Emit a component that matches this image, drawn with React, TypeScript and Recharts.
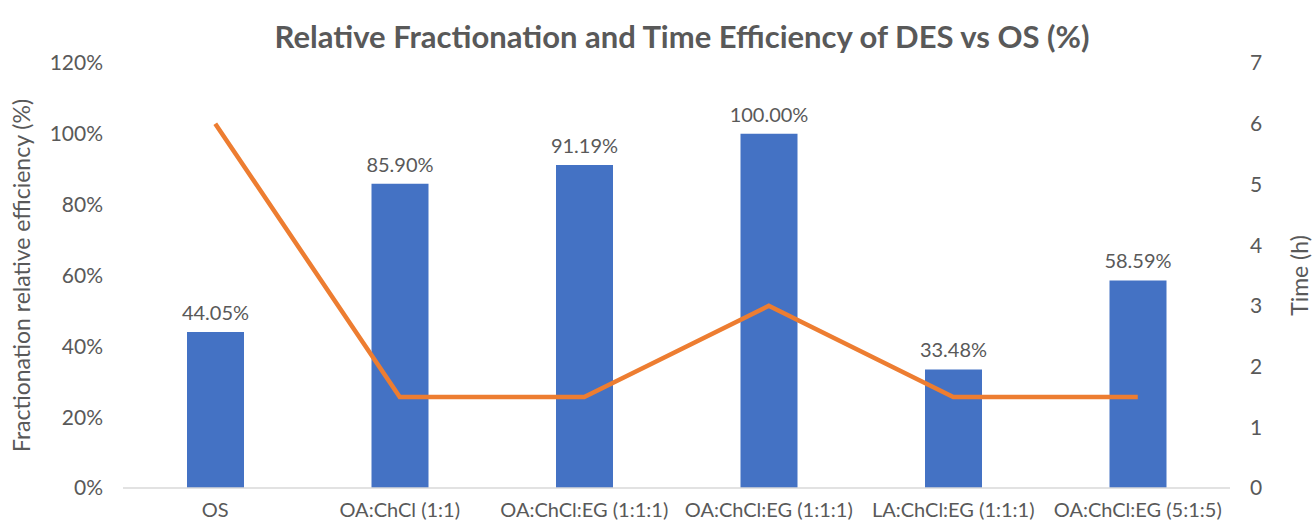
import { ComposedChart, Bar, Line, XAxis, YAxis, LabelList } from "recharts";

const categories = ["OS", "OA:ChCl (1:1)", "OA:ChCl:EG (1:1:1)", "OA:ChCl:EG (1:1:1)", "LA:ChCl:EG (1:1:1)", "OA:ChCl:EG (5:1:5)"];
const efficiency = [44.05, 85.9, 91.19, 100.0, 33.48, 58.59];
const timeHours = [6, 1.5, 1.5, 3, 1.5, 1.5];
const leftTicks = [0, 20, 40, 60, 80, 100, 120];
const rightTicks = [0, 1, 2, 3, 4, 5, 6, 7];

const data = categories.map((name, i) => ({ name, eff: efficiency[i], time: timeHours[i] }));

const FONT = "Lato, 'Open Sans', sans-serif";
const TEXT = "#595959";

export default function App() {
  return (
    <div style={{ width: 1316, height: 530, position: "relative", background: "#fff", fontFamily: FONT }}>
      <style>{`body{margin:0}`}</style>
      <div
        style={{
          position: "absolute",
          top: 14,
          left: 48,
          width: 1268,
          textAlign: "center",
          fontSize: 31,
          fontWeight: 700,
          color: TEXT,
          lineHeight: "44px",
        }}
      >
        Relative Fractionation and Time Efficiency of DES vs OS (%)
      </div>
      <ComposedChart width={1316} height={530} data={data} margin={{ top: 63, right: 0, bottom: 12, left: 0 }}>
        <XAxis
          dataKey="name"
          xAxisId="x"
          height={30}
          tickLine={false}
          axisLine={{ stroke: "#D9D9D9", strokeWidth: 1.5 }}
          tick={{ fill: TEXT, fontSize: 20, fontFamily: FONT }}
          tickMargin={9}
          interval={0}
        />
        <YAxis
          yAxisId="left"
          width={123}
          domain={[0, 120]}
          ticks={leftTicks}
          tickFormatter={(v) => `${v}%`}
          axisLine={false}
          tickLine={false}
          tickMargin={14}
          tick={{ fill: TEXT, fontSize: 21, fontFamily: FONT }}
          label={{
            value: "Fractionation relative efficiency (%)",
            angle: -90,
            position: "insideLeft",
            offset: 22,
            textAnchor: "middle",
            fill: TEXT,
            fontSize: 23,
            fontFamily: FONT,
          }}
        />
        <YAxis
          yAxisId="right"
          orientation="right"
          width={86}
          domain={[0, 7]}
          ticks={rightTicks}
          axisLine={false}
          tickLine={false}
          tickMargin={14}
          tick={{ fill: TEXT, fontSize: 21, fontFamily: FONT }}
          label={{
            value: "Time (h)",
            angle: -90,
            position: "insideRight",
            offset: 16,
            textAnchor: "middle",
            fill: TEXT,
            fontSize: 23,
            fontFamily: FONT,
          }}
        />
        <Bar dataKey="eff" xAxisId="x" yAxisId="left" fill="#4472C4" barSize={57} isAnimationActive={false}>
          <LabelList
            dataKey="eff"
            position="top"
            offset={12}
            formatter={(v: any) => `${Number(v).toFixed(2)}%`}
            fill={TEXT}
            fontSize={20}
            fontFamily={FONT}
          />
        </Bar>
        <Line
          dataKey="time"
          xAxisId="x"
          yAxisId="right"
          stroke="#ED7D31"
          strokeWidth={4.5}
          dot={false}
          activeDot={false}
          type="linear"
          isAnimationActive={false}
        />
      </ComposedChart>
    </div>
  );
}
